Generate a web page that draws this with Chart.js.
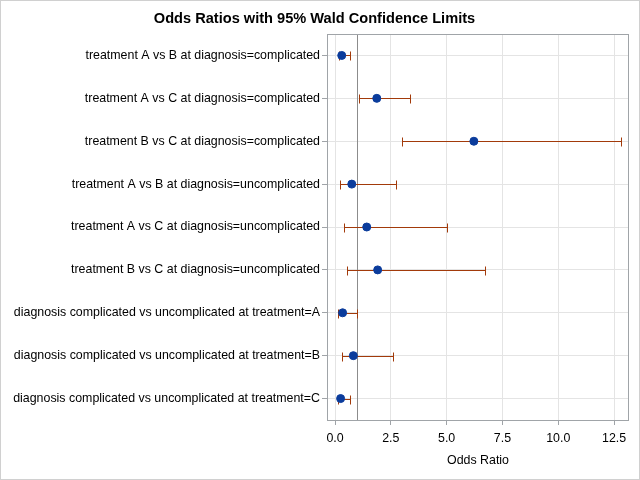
<!DOCTYPE html>
<html>
<head>
<meta charset="utf-8">
<script src="https://cdn.jsdelivr.net/npm/chart.js@4"></script>
<style>
  html, body { margin: 0; padding: 0; background: #fff; }
  #wrap { width: 640px; height: 480px; }
</style>
</head>
<body>
<div id="wrap"><canvas id="mycanvas" width="640" height="480"></canvas></div>
<script>
// odds ratio estimates and 95% Wald limits
var comparisons = [
	"treatment A vs B at diagnosis=complicated",
	"treatment A vs C at diagnosis=complicated",
	"treatment B vs C at diagnosis=complicated",
	"treatment A vs B at diagnosis=uncomplicated",
	"treatment A vs C at diagnosis=uncomplicated",
	"treatment B vs C at diagnosis=uncomplicated",
	"diagnosis complicated vs uncomplicated at treatment=A",
	"diagnosis complicated vs uncomplicated at treatment=B",
	"diagnosis complicated vs uncomplicated at treatment=C"
];
var oddsRatio = [0.30, 1.87, 6.22, 0.75, 1.42, 1.91, 0.34, 0.82, 0.25];
var lowerCL   = [0.16, 1.06, 2.99, 0.21, 0.39, 0.52, 0.12, 0.30, 0.12];
var upperCL   = [0.66, 3.35, 12.81, 2.72, 5.01, 6.71, 0.97, 2.58, 0.66];
var xTicks    = [0, 2.5, 5, 7.5, 10, 12.5];
var refValue  = 1;

var points = [];
for (var i in comparisons) {
	points.push({ x: oddsRatio[i], y: comparisons[i], lo: lowerCL[i], hi: upperCL[i] });
}

// draws the limit bars, the reference line, and frames
var orPlugin = {
	id: 'orPlugin',
	beforeDraw: function(chart) {
		var c = chart.ctx;
		c.save();
		c.fillStyle = '#fff';
		c.fillRect(0, 0, chart.width, chart.height);
		c.strokeStyle = '#d0d0d0';
		c.lineWidth = 1;
		c.strokeRect(0.5, 0.5, chart.width - 1, chart.height - 1);
		c.restore();
	},
	beforeDatasetsDraw: function(chart) {
		var c = chart.ctx, a = chart.chartArea;
		var xs = chart.scales.x, ys = chart.scales.y;
		c.save();
		// reference line
		var rx = Math.round(xs.getPixelForValue(refValue)) + 0.5;
		c.strokeStyle = '#8c8c8c';
		c.lineWidth = 1;
		c.beginPath();
		c.moveTo(rx, a.top);
		c.lineTo(rx, a.bottom);
		c.stroke();
		// confidence limits
		c.strokeStyle = '#a23a0a';
		points.forEach(function(p, k) {
			var y = Math.round(ys.getPixelForValue(k)) + 0.5;
			var x1 = Math.round(xs.getPixelForValue(p.lo)) + 0.5;
			var x2 = Math.round(xs.getPixelForValue(p.hi)) + 0.5;
			c.beginPath();
			c.moveTo(x1, y); c.lineTo(x2, y);
			c.moveTo(x1, y - 4); c.lineTo(x1, y + 5);
			c.moveTo(x2, y - 4); c.lineTo(x2, y + 5);
			c.stroke();
		});
		c.restore();
	},
	afterDraw: function(chart) {
		var c = chart.ctx, a = chart.chartArea;
		c.save();
		c.strokeStyle = '#a0a4a8';
		c.lineWidth = 1;
		c.strokeRect(Math.round(a.left) + 0.5, Math.round(a.top) + 0.5,
			Math.round(a.right - a.left) - 1, Math.round(a.bottom - a.top));
		c.restore();
	}
};

var ctx = document.getElementById('mycanvas');
var chart = new Chart(ctx, {
	type: 'scatter',
	data: {
		labels: comparisons,
		datasets: [{
			label: 'Odds Ratio',
			data: points,
			backgroundColor: '#0b3c9c',
			borderColor: '#0b3c9c',
			pointRadius: 4,
			pointHoverRadius: 4
		}]
	},
	options: {
		responsive: false,
		animation: false,
		events: [],
		layout: { padding: { top: 0, right: 11, bottom: 10, left: 0 } },
		plugins: {
			legend: { display: false },
			tooltip: { enabled: false },
			title: {
				display: true,
				text: 'Odds Ratios with 95% Wald Confidence Limits',
				color: '#000',
				font: { family: 'Liberation Sans, Arial, sans-serif', size: 14.6, weight: 'bold' },
				padding: { top: 10, bottom: 6.5 }
			}
		},
		scales: {
			x: {
				type: 'linear',
				min: -0.36,
				max: 13.17,
				afterBuildTicks: function(scale) {
					scale.ticks = xTicks.map(function(v) { return { value: v }; });
				},
				afterFit: function(scale) { scale.height = 50; },
				ticks: {
					color: '#000',
					padding: 6,
					font: { family: 'Liberation Sans, Arial, sans-serif', size: 12.4 },
					callback: function(v) { return Number(v).toFixed(1); }
				},
				grid: { color: '#e4e4e4', tickColor: '#a0a4a8', tickLength: 5, drawTicks: true },
				border: { display: false },
				title: {
					display: true,
					text: 'Odds Ratio',
					color: '#000',
					font: { family: 'Liberation Sans, Arial, sans-serif', size: 12.4 },
					padding: { top: 4, bottom: 2 }
				}
			},
			y: {
				type: 'category',
				labels: comparisons,
				offset: true,
				afterFit: function(scale) { scale.width = 327; },
				ticks: {
					color: '#000',
					padding: 2,
					autoSkip: false,
					font: { family: 'Liberation Sans, Arial, sans-serif', size: 12.4 }
				},
				grid: { color: '#e4e4e4', tickColor: '#a0a4a8', tickLength: 5, offset: false },
				border: { display: false }
			}
		}
	},
	plugins: [orPlugin]
});
</script>
</body>
</html>
